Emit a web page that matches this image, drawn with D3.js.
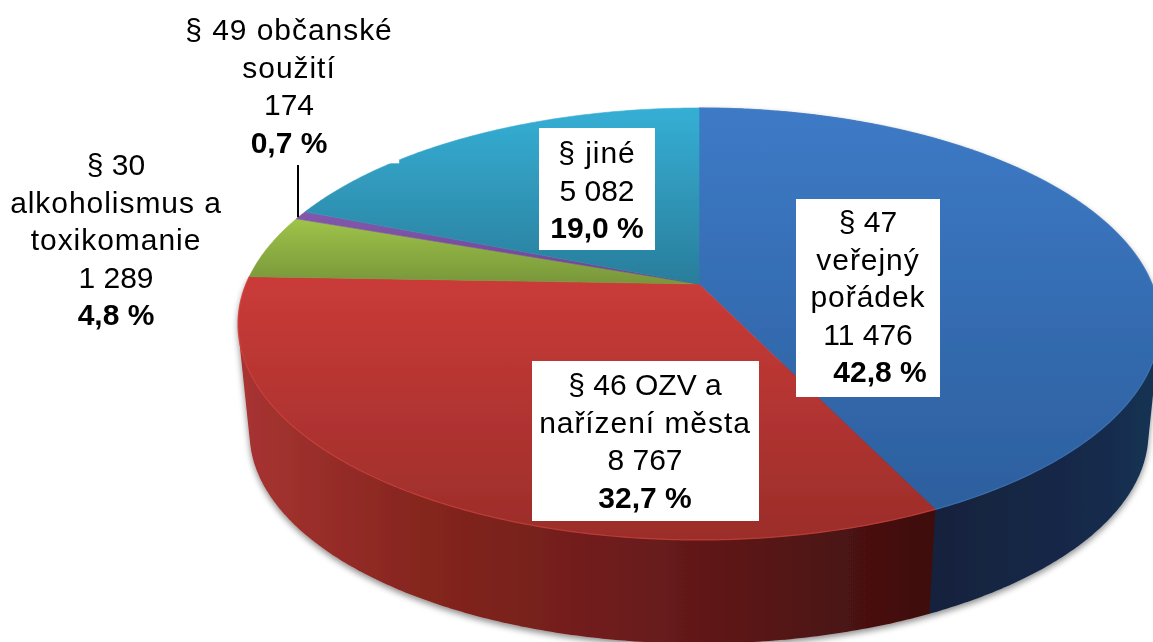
<!DOCTYPE html>
<html><head><meta charset="utf-8">
<script src="https://cdn.jsdelivr.net/npm/d3@7"></script>
<style>html,body{margin:0;padding:0;background:#fff;overflow:hidden}svg{display:block}text{font-family:"Liberation Sans",Arial,sans-serif;fill:#000}</style>
</head><body><svg id="c" width="1153" height="642"></svg>
<script>
const categories = ["§ 47 veřejný pořádek","§ 46 OZV a nařízení města","§ 30 alkoholismus a toxikomanie","§ 49 občanské soužití","§ jiné"];
const values = [11476, 8767, 1289, 174, 5082];
const topColors = [["#3d7ac6","#2b5d9b"],["#ca3b38","#9b2d2a"],["#9fc449","#78963a"],["#8358ad","#6a4490"],["#35afd5","#2a7d9b"]];
const labelLines = [
  ["§ 47","veřejný","pořádek","11 476","42,8 %"],
  ["§ 46 OZV a","nařízení města","8 767","32,7 %"],
  ["§ 30","alkoholismus a","toxikomanie","1 289","4,8 %"],
  ["§ 49 občanské","soužití","174","0,7 %"],
  ["§ jiné","5 082","19,0 %"]
];
const labelLayout = [
  {cx:868, y:232, box:[796,199,144,198], lastDx:12},
  {cx:645, y:395, box:[532,361,227,160]},
  {cx:116, y:175},
  {cx:289, y:40},
  {cx:597, y:163, box:[539,128,116,122]}
];
const lineH = 37.6, fontSize = 30;

const W = 1153, H = 642;
const svg = d3.select("#c");
const apex = {x:699, y:284}, B = 453, A = 208.6, k = -0.185;
const bottom = {y:394, s:0.975};
function project(theta, level){
  const u = Math.sin(theta), v = -Math.cos(theta), d = 1 + k*v;
  const x = B*u/d, y = A*v/d;
  return level === 0 ? [apex.x + x, apex.y + y] : [apex.x + x*bottom.s, bottom.y + y*bottom.s];
}
const arcs = d3.pie().sort(null).value(d=>d)(values);
const line = d3.line();
const rim = (a,b,level)=>{ const n = Math.max(2, Math.ceil((b-a)/0.01)); return d3.range(n+1).map(i=>project(a+(b-a)*i/n, level)); };

const defs = svg.append("defs");
const f = defs.append("filter").attr("id","shadow").attr("x","-5%").attr("y","-5%").attr("width","110%").attr("height","115%");
f.append("feDropShadow").attr("dx",0).attr("dy",3).attr("stdDeviation",3).attr("flood-color","#000").attr("flood-opacity",0.45);
const soft = defs.append("filter").attr("id","soft").attr("x","-2%").attr("y","-2%").attr("width","104%").attr("height","104%");
soft.append("feGaussianBlur").attr("stdDeviation",0.45);

const wallStops = [
  [[0,"#12233d"],[0.7,"#14294a"],[1,"#183253"]],
  [[0,"#a83432"],[0.25,"#86261f"],[0.55,"#6d1c1c"],[1,"#3e0e0e"]]
];
const wallRange = [[935,1153],[240,935]];
wallStops.forEach((st,i)=>{
  const g = defs.append("linearGradient").attr("id","w"+i).attr("gradientUnits","userSpaceOnUse")
    .attr("x1",wallRange[i][0]).attr("x2",wallRange[i][1]).attr("y1",0).attr("y2",0);
  st.forEach(s=>g.append("stop").attr("offset",s[0]).attr("stop-color",s[1]));
});
const topRange = [[108,540],[277,540],[218,284],[212,284],[108,284]];
topColors.forEach((c,i)=>{
  const g = defs.append("linearGradient").attr("id","t"+i).attr("gradientUnits","userSpaceOnUse")
    .attr("x1",0).attr("x2",0).attr("y1",topRange[i][0]).attr("y2",topRange[i][1]);
  g.append("stop").attr("offset",0).attr("stop-color",c[0]);
  g.append("stop").attr("offset",1).attr("stop-color",c[1]);
});

const pie = svg.append("g").attr("filter","url(#soft)");
const walls = pie.append("g").attr("filter","url(#shadow)");
// only the two front slices show a side wall; the hull gives the true silhouette
walls.selectAll("path").data(arcs.slice(0,2)).join("path")
  .attr("d",d=>line(d3.polygonHull(rim(d.startAngle,d.endAngle,0).concat(rim(d.startAngle,d.endAngle,1))))+"Z")
  .attr("fill",(d,i)=>`url(#w${i})`);

const tops = pie.append("g");
tops.selectAll("path").data(arcs).join("path")
  .attr("d",d=>line([[apex.x,apex.y]].concat(rim(d.startAngle,d.endAngle,0)))+"Z")
  .attr("fill",(d,i)=>`url(#t${i})`)
  .attr("stroke",(d,i)=>`url(#t${i})`).attr("stroke-width",0.6);
const rimCol = ["#4a83c6","#dd4a46"];
tops.selectAll("path.rim").data(arcs.slice(0,2)).join("path").attr("class","rim")
  .attr("d",d=>line(rim(d.startAngle,d.endAngle,0)))
  .attr("fill","none").attr("stroke",(d,i)=>rimCol[i]).attr("stroke-width",1.2).attr("opacity",0.55);

// small white notch on the rim of the last slice
const notch = project(arcs[4].startAngle + (arcs[4].endAngle-arcs[4].startAngle)*0.28, 0);
pie.append("rect").attr("x",notch[0]-6).attr("y",notch[1]-3).attr("width",12).attr("height",4).attr("fill","#fff");

// leader line for the thin slice
const mid = project((arcs[3].startAngle+arcs[3].endAngle)/2,0);
pie.append("line").attr("x1",298).attr("x2",298).attr("y1",165).attr("y2",mid[1]+2).attr("stroke","#000").attr("stroke-width",2);

const lab = svg.append("g").attr("filter","url(#soft)");
labelLayout.forEach((l,i)=>{
  if(l.box) lab.append("rect").attr("x",l.box[0]).attr("y",l.box[1]).attr("width",l.box[2]).attr("height",l.box[3]).attr("fill","#fff");
  const ls = labelLines[i];
  ls.forEach((t,j)=>{
    const last = j===ls.length-1;
    const lower = (t.match(/\p{Ll}/gu)||[]).length >= 3;
    lab.append("text").attr("x",l.cx+(last&&l.lastDx?l.lastDx:0)).attr("y",l.y+j*lineH)
      .attr("text-anchor","middle").attr("font-size",fontSize).attr("font-weight",last?"bold":"normal")
      .attr("letter-spacing",lower?0.95:0).text(t);
  });
});
</script></body></html>
